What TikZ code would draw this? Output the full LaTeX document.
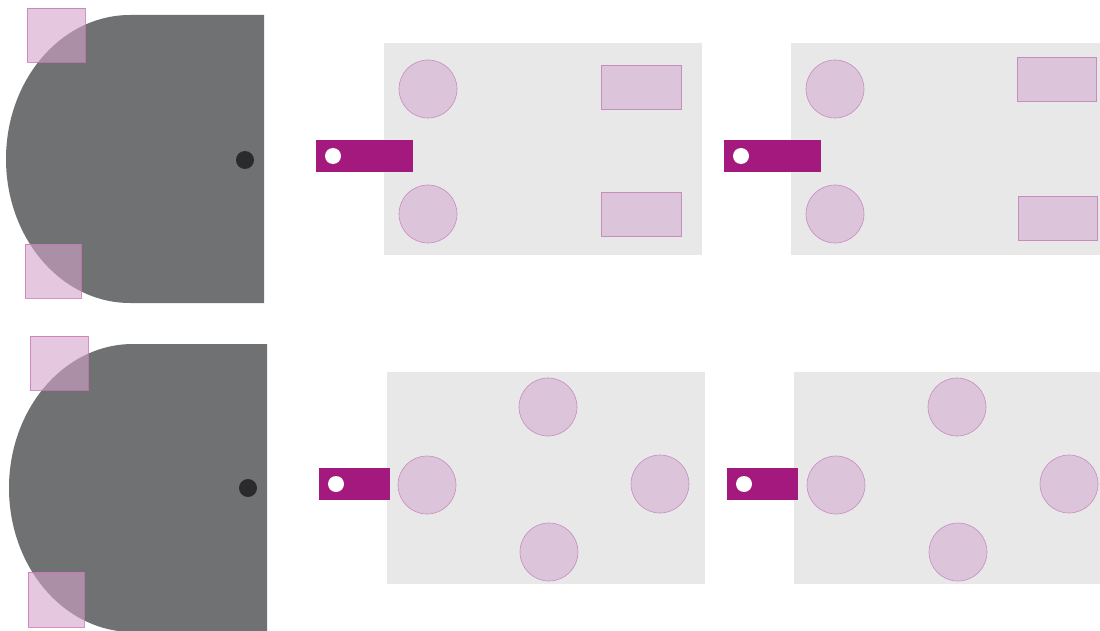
\documentclass[tikz,border=0pt]{standalone}
\begin{document}
\begin{tikzpicture}[x=1pt,y=-1pt,
  dshape/.style={fill=dgray},
  sq/.style={draw=sqline,line width=0.8pt,fill=sqfill,fill opacity=0.6,draw opacity=0.8},
  panel/.style={fill=panelgray},
  pc/.style={circle,draw=pline,line width=0.6pt,fill=pfill,minimum size=58pt,inner sep=0pt},
  pr/.style={rectangle,draw=pline,line width=0.8pt,fill=pfill,minimum width=80pt,minimum height=44pt,inner sep=0pt},
  tag/.style={fill=tagc},
  hole/.style={circle,fill=white,minimum size=16pt,inner sep=0pt},
  pin/.style={circle,fill=pinc,minimum size=18pt,inner sep=0pt}]
\definecolor{dgray}{RGB}{112,113,115}
\definecolor{sqfill}{RGB}{211,163,202}
\definecolor{sqline}{RGB}{200,120,180}
\definecolor{panelgray}{RGB}{232,232,232}
\definecolor{pfill}{RGB}{220,196,218}
\definecolor{pline}{RGB}{200,140,190}
\definecolor{tagc}{RGB}{163,25,126}
\definecolor{pinc}{RGB}{43,42,45}
\useasboundingbox (0,0) rectangle (1100,631);
% top-left D shape
\fill[dshape] (264,15) -- (130,15) arc[start angle=270,end angle=90,x radius=124,y radius=144] -- (264,303) -- cycle;
\node[pin] (pin1) at (245,160) {};
\path[sq] (27,8) rectangle (85,62);
\path[sq] (25,244) rectangle (81,298);
% bottom-left D shape
\fill[dshape] (267,344) -- (133,344) arc[start angle=270,end angle=90,x radius=124,y radius=144] -- (267,632) -- cycle;
\node[pin] (pin2) at (248,488) {};
\path[sq] (30,336) rectangle (88,390);
\path[sq] (28,572) rectangle (84,627);
% panels
\fill[panel] (384,43) rectangle (702,255);
\fill[panel] (791,43) rectangle (1100,255);
\fill[panel] (387,372) rectangle (705,584);
\fill[panel] (794,372) rectangle (1100,584);
% tags
\fill[tag] (316,140) rectangle (413,172);
\node[hole] (h1) at (333,156) {};
\fill[tag] (724,140) rectangle (821,172);
\node[hole] (h2) at (741,156) {};
\fill[tag] (319,468) rectangle (390,500);
\node[hole] (h3) at (336,484) {};
\fill[tag] (727,468) rectangle (798,500);
\node[hole] (h4) at (744,484) {};
% top middle panel
\node[pc] (a1) at (428,89) {};
\node[pc] (a2) at (428,214) {};
\node[pr] (a3) at (641,87) {};
\node[pr] (a4) at (641,214) {};
% top right panel
\node[pc] (b1) at (835,89) {};
\node[pc] (b2) at (835,214) {};
\node[pr,minimum width=79pt] (b3) at (1056.5,79) {};
\node[pr,minimum width=79pt] (b4) at (1057.5,218) {};
% bottom middle panel
\node[pc] (c1) at (548,407) {};
\node[pc] (c2) at (427,485) {};
\node[pc] (c3) at (660,484) {};
\node[pc] (c4) at (549,552) {};
% bottom right panel
\node[pc] (d1) at (957,407) {};
\node[pc] (d2) at (836,485) {};
\node[pc] (d3) at (1069,484) {};
\node[pc] (d4) at (958,552) {};
\end{tikzpicture}
\end{document}
